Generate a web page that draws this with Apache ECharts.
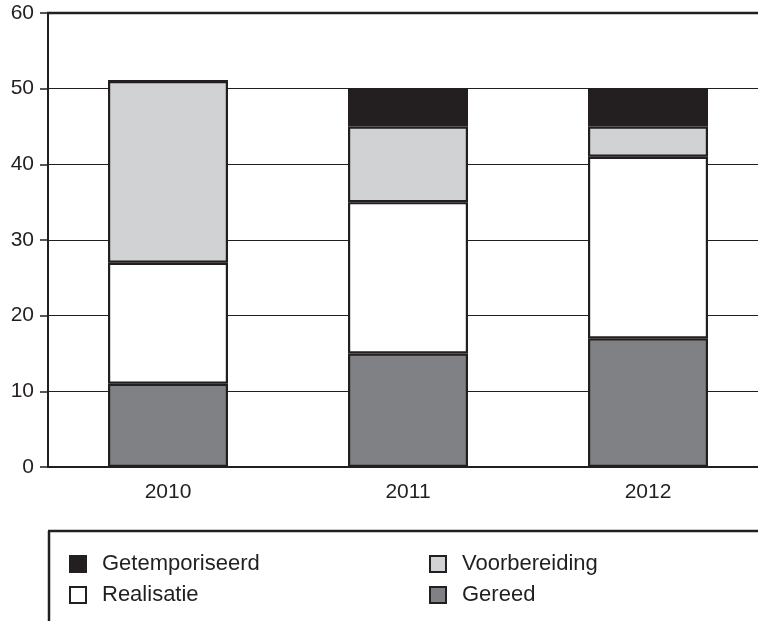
<!DOCTYPE html>
<html>
<head>
<meta charset="utf-8">
<script src="https://cdn.jsdelivr.net/npm/echarts@6/dist/echarts.min.js"></script>
<style>
  html, body { margin: 0; padding: 0; background: #fff; overflow: hidden; }
  /* the plot runs past the right edge of the picture, as in the print */
  #main { width: 770px; height: 621px; }
</style>
</head>
<body>
<div id="main"></div>
<script>
const years = ['2010', '2011', '2012']
const gereed = [11, 15, 17]
const realisatie = [16, 20, 24]
const voorbereiding = [24, 10, 4]
const getemporiseerd = [0, 5, 5]

const ink = '#231f20'
const font = 'Liberation Sans, Arial, sans-serif'

const chart = echarts.init(document.getElementById('main'))

const bar = (name, data, color) => ({
  name,
  type: 'bar',
  stack: 'total',
  data,
  barWidth: '50%',
  itemStyle: { color, borderColor: ink, borderWidth: 2.2 },
})

const legendBase = {
  orient: 'vertical',
  top: 553,
  padding: 0,
  itemWidth: 16,
  itemHeight: 16,
  itemGap: 9,
  icon: 'rect',
  selectedMode: false,
  textStyle: { color: ink, fontSize: 22, lineHeight: 22, fontFamily: font, padding: [0, 0, 0, 11] },
}

const option = {
  animation: false,
  grid: { left: 48, top: 13, right: 2, bottom: 154, containLabel: false },
  xAxis: {
    type: 'category',
    data: years,
    axisLine: { lineStyle: { color: ink, width: 2 } },
    axisTick: { length: 8, lineStyle: { color: ink, width: 1.5 } },
    axisLabel: { color: ink, fontSize: 21, fontFamily: font, margin: 15 },
  },
  yAxis: {
    type: 'value',
    min: 0,
    max: 60,
    interval: 10,
    axisLine: { show: true, lineStyle: { color: ink, width: 2 } },
    axisTick: { show: true, length: 8, lineStyle: { color: ink, width: 1.5 } },
    axisLabel: { color: ink, fontSize: 21, fontFamily: font, margin: 14 },
    splitLine: { lineStyle: { color: ink, width: 1.2 } },
  },
  legend: [
    Object.assign({}, legendBase, { left: 69, data: ['Getemporiseerd', 'Realisatie'] }),
    Object.assign({}, legendBase, { left: 429, data: ['Voorbereiding', 'Gereed'] }),
  ],
  graphic: [
    // top frame line of the plot
    { type: 'line', shape: { x1: 47, y1: 13, x2: 770, y2: 13 }, style: { stroke: ink, lineWidth: 2.5 } },
    // legend box (open on the right and bottom)
    { type: 'line', shape: { x1: 48, y1: 531, x2: 770, y2: 531 }, style: { stroke: ink, lineWidth: 2.5 } },
    { type: 'line', shape: { x1: 49, y1: 531, x2: 49, y2: 621 }, style: { stroke: ink, lineWidth: 2.5 } },
  ],
  series: [
    bar('Gereed', gereed, '#808184'),
    bar('Realisatie', realisatie, '#ffffff'),
    bar('Voorbereiding', voorbereiding, '#d1d2d3'),
    bar('Getemporiseerd', getemporiseerd, ink),
  ],
}

chart.setOption(option)
</script>
</body>
</html>
